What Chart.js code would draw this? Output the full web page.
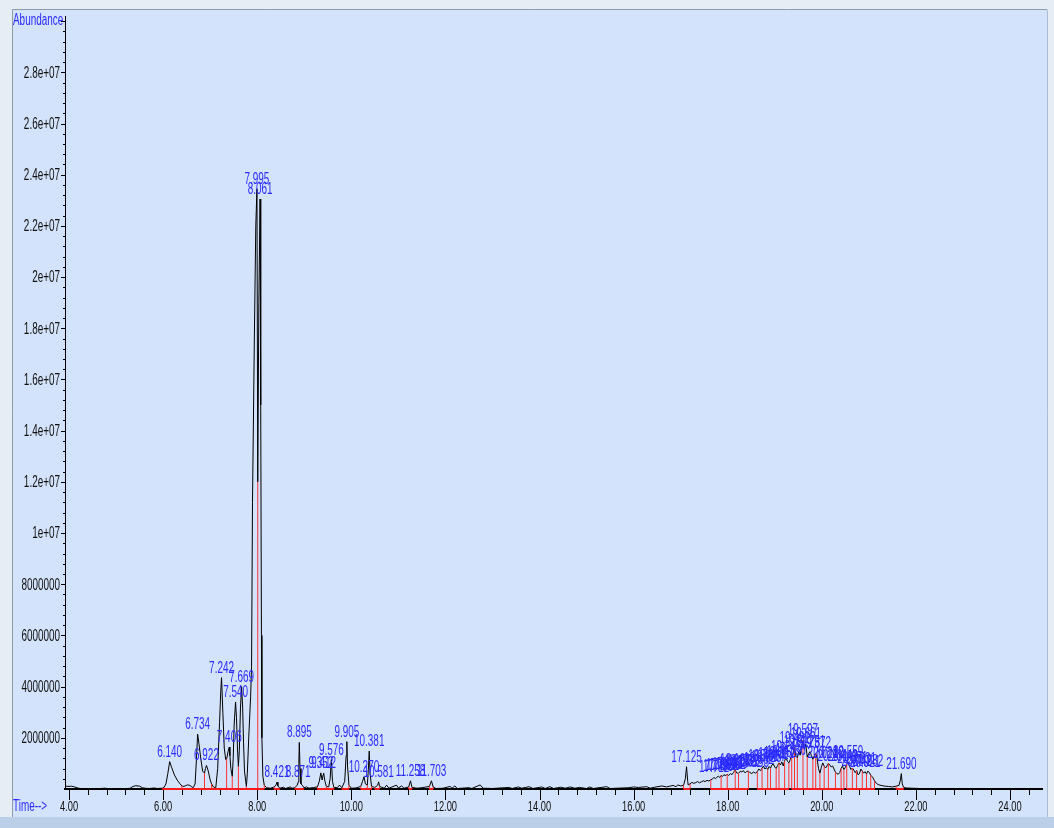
<!DOCTYPE html>
<html>
<head>
<meta charset="utf-8">
<title>TIC</title>
<script src="https://cdn.jsdelivr.net/npm/chart.js@4.4.1/dist/chart.umd.min.js"></script>
<style>
  html, body { margin: 0; padding: 0; background: #e6edf5; }
  #wrap { width: 1054px; height: 828px; }
</style>
</head>
<body>
<div id="wrap"><canvas id="ticChart" width="1054" height="828"></canvas></div>
<script>
// total ion chromatogram, [retention time (min), abundance]
const tic = [
  [3.92, 1.2e5], [3.98, 1.0e5], [4.05, 1.1e5], [4.12, 0.8e5], [4.20, 0.3e5], [4.30, 0.1e5], [4.45, 0.2e5],
  [4.60, 0.1e5], [4.75, 0.3e5], [4.90, 0.1e5], [5.05, 0.2e5], [5.20, 0.1e5], [5.30, 0.3e5], [5.36, 1.0e5],
  [5.42, 1.3e5], [5.50, 1.1e5], [5.56, 0.5e5], [5.62, 0.3e5], [5.72, 0.2e5], [5.80, 0.4e5], [5.88, 0.2e5],
  [5.98, 0.3e5], [6.02, 0.6e5], [6.06, 2.0e5], [6.10, 6.0e5], [6.14, 1.07e6], [6.18, 8.5e5], [6.24, 5.5e5],
  [6.30, 3.5e5], [6.36, 2.0e5], [6.40, 1.2e5], [6.44, 1.0e5], [6.48, 1.3e5], [6.52, 1.6e5], [6.57, 1.4e5],
  [6.61, 0.8e5], [6.64, 0.5e5], [6.68, 2.0e5], [6.71, 1.2e6], [6.734, 2.14e6], [6.76, 1.8e6], [6.80, 1.2e6],
  [6.84, 7.0e5], [6.88, 6.2e5], [6.90, 8.0e5], [6.922, 9.2e5], [6.96, 7.0e5], [7.00, 3.6e5], [7.03, 2.0e5],
  [7.07, 0.8e5], [7.12, 0.5e5], [7.16, 8.0e5], [7.20, 2.6e6], [7.225, 3.8e6], [7.242, 4.35e6], [7.27, 3.0e6],
  [7.30, 1.6e6], [7.33, 1.15e6], [7.35, 1.17e6], [7.38, 1.45e6], [7.406, 1.64e6], [7.42, 1.3e6], [7.44, 8.0e5],
  [7.47, 4.9e5], [7.49, 1.2e6], [7.51, 2.5e6], [7.54, 3.4e6], [7.56, 2.8e6], [7.58, 1.6e6], [7.60, 8.8e5],
  [7.62, 1.5e6], [7.645, 3.2e6], [7.669, 4.0e6], [7.69, 3.2e6], [7.71, 1.8e6], [7.73, 7.0e5], [7.77, 1.0e5],
  [7.79, 6.0e5], [7.82, 2.0e6], [7.86, 3.6e6], [7.88, 4.8e6], [7.90, 1.12e7], [7.94, 1.77e7], [7.97, 2.2e7],
  [7.995, 2.345e7], [8.012, 1.2e7], [8.035, 1.9e7], [8.061, 2.305e7], [8.075, 1.5e7], [8.09, 6.0e6], [8.10, 2.0e6],
  [8.12, 5.0e5], [8.15, 1.5e5], [8.20, 0.5e5], [8.28, 0.3e5], [8.36, 0.8e5], [8.40, 1.5e5], [8.421, 2.7e5],
  [8.44, 1.2e5], [8.48, 0.3e5], [8.56, 0.7e5], [8.60, 0.2e5], [8.70, 0.8e5], [8.74, 0.3e5], [8.80, 0.5e5],
  [8.85, 1.5e5], [8.871, 2.7e5], [8.885, 1.0e6], [8.895, 1.82e6], [8.91, 8.0e5], [8.93, 2.0e5], [8.96, 1.5e5],
  [8.99, 0.5e5], [9.05, 0.8e5], [9.10, 0.3e5], [9.20, 0.6e5], [9.28, 0.8e5], [9.32, 3.0e5], [9.352, 6.3e5],
  [9.38, 3.5e5], [9.40, 5.5e5], [9.412, 6.2e5], [9.44, 3.0e5], [9.47, 1.0e5], [9.52, 0.8e5], [9.55, 4.0e5],
  [9.576, 1.15e6], [9.60, 3.0e5], [9.63, 0.6e5], [9.70, 0.5e5], [9.75, 1.5e5], [9.80, 0.5e5], [9.86, 3.0e5],
  [9.89, 1.3e6], [9.905, 1.85e6], [9.92, 9.0e5], [9.95, 1.5e5], [10.00, 0.3e5], [10.10, 0.4e5], [10.20, 1.0e5],
  [10.24, 3.0e5], [10.270, 4.8e5], [10.30, 2.0e5], [10.34, 1.5e5], [10.36, 7.0e5], [10.381, 1.48e6], [10.40, 6.0e5],
  [10.43, 1.0e5], [10.50, 0.6e5], [10.56, 1.5e5], [10.581, 2.8e5], [10.60, 1.0e5], [10.70, 0.3e5], [10.75, 1.5e5],
  [10.80, 0.3e5], [10.96, 1.5e5], [11.00, 0.4e5], [11.07, 1.2e5], [11.12, 0.3e5], [11.22, 0.8e5], [11.258, 3.2e5],
  [11.29, 0.6e5], [11.40, 0.3e5], [11.50, 0.5e5], [11.66, 1.0e5], [11.703, 3.2e5], [11.74, 0.8e5], [11.80, 0.2e5],
  [11.95, 0.3e5], [12.10, 1.0e5], [12.14, 0.3e5], [12.20, 1.2e5], [12.25, 0.2e5], [12.50, 0.5e5], [12.56, 0.2e5],
  [12.74, 1.6e5], [12.80, 0.3e5], [13.00, 0.2e5], [13.35, 0.6e5], [13.42, 0.2e5], [13.55, 0.8e5], [13.62, 0.3e5],
  [13.78, 0.9e5], [13.86, 0.2e5], [14.05, 0.8e5], [14.12, 0.2e5], [14.22, 0.9e5], [14.30, 0.2e5], [14.45, 0.7e5],
  [14.55, 0.3e5], [14.65, 0.8e5], [14.75, 0.3e5], [14.85, 0.6e5], [15.00, 0.2e5], [15.07, 0.8e5], [15.14, 0.2e5],
  [15.43, 0.9e5], [15.50, 0.2e5], [15.90, 0.5e5], [16.00, 0.8e5], [16.10, 0.6e5], [16.28, 0.9e5], [16.35, 0.3e5],
  [16.45, 0.7e5], [16.60, 1.2e5], [16.70, 0.8e5], [16.84, 1.4e5], [16.90, 0.9e5], [16.94, 1.6e5], [17.00, 1.2e5],
  [17.06, 1.4e5], [17.10, 4.0e5], [17.125, 8.7e5], [17.15, 3.0e5], [17.16, 1.6e5], [17.20, 2.0e5], [17.24, 2.6e5],
  [17.28, 2.2e5], [17.32, 2.5e5], [17.36, 2.9e5], [17.40, 2.4e5], [17.44, 2.8e5], [17.48, 3.2e5], [17.52, 2.9e5],
  [17.56, 3.4e5], [17.60, 3.1e5], [17.64, 3.6e5], [17.68, 4.0e5], [17.71, 4.5e5], [17.74, 4.0e5], [17.77, 4.6e5],
  [17.80, 5.0e5], [17.83, 4.5e5], [17.86, 5.3e5], [17.89, 4.9e5], [17.92, 5.6e5], [17.96, 5.2e5], [17.99, 5.8e5],
  [18.02, 5.3e5], [18.06, 6.0e5], [18.09, 5.6e5], [18.12, 6.4e5], [18.16, 7.4e5], [18.19, 6.3e5], [18.23, 6.1e5],
  [18.27, 7.0e5], [18.30, 6.6e5], [18.33, 7.2e5], [18.37, 6.3e5], [18.40, 6.8e5], [18.44, 7.0e5], [18.47, 6.4e5],
  [18.51, 6.1e5], [18.55, 6.6e5], [18.59, 6.2e5], [18.63, 6.8e5], [18.66, 7.8e5], [18.70, 7.2e5], [18.73, 8.2e5],
  [18.76, 9.0e5], [18.79, 7.8e5], [18.82, 8.4e5], [18.85, 7.6e5], [18.88, 8.8e5], [18.91, 8.2e5], [18.94, 9.4e5],
  [18.97, 9.8e5], [19.00, 8.6e5], [19.03, 8.0e5], [19.06, 9.2e5], [19.09, 1.02e6], [19.12, 9.4e5], [19.15, 1.06e6],
  [19.18, 9.0e5], [19.21, 1.10e6], [19.24, 1.24e6], [19.27, 1.08e6], [19.30, 1.02e6], [19.33, 1.15e6], [19.36, 1.30e6],
  [19.39, 1.40e6], [19.42, 1.62e6], [19.45, 1.28e6], [19.48, 1.22e6], [19.51, 1.45e6], [19.54, 1.32e6], [19.57, 1.65e6],
  [19.60, 1.90e6], [19.63, 1.55e6], [19.66, 1.75e6], [19.69, 1.25e6], [19.72, 1.38e6], [19.75, 1.46e6], [19.78, 1.30e6],
  [19.81, 1.16e6], [19.84, 1.30e6], [19.87, 1.40e6], [19.90, 1.20e6], [19.93, 8.0e5], [19.96, 6.2e5], [19.99, 8.5e5],
  [20.02, 1.02e6], [20.05, 9.0e5], [20.08, 8.2e5], [20.11, 9.0e5], [20.14, 1.00e6], [20.17, 9.4e5], [20.20, 8.6e5],
  [20.23, 9.0e5], [20.26, 7.8e5], [20.29, 6.6e5], [20.32, 6.0e5], [20.35, 5.8e5], [20.38, 6.4e5], [20.41, 8.0e5],
  [20.44, 9.0e5], [20.47, 7.6e5], [20.50, 8.4e5], [20.53, 9.6e5], [20.56, 1.04e6], [20.59, 8.8e5], [20.62, 7.6e5],
  [20.65, 8.2e5], [20.68, 7.4e5], [20.71, 6.4e5], [20.74, 7.2e5], [20.77, 5.6e5], [20.80, 6.0e5], [20.83, 7.8e5],
  [20.86, 7.0e5], [20.89, 6.2e5], [20.92, 6.8e5], [20.95, 5.9e5], [20.98, 7.0e5], [21.01, 6.4e5], [21.04, 5.4e5],
  [21.08, 4.6e5], [21.12, 3.2e5], [21.16, 2.2e5], [21.20, 1.7e5], [21.26, 1.4e5], [21.34, 1.1e5], [21.42, 1.0e5],
  [21.50, 0.8e5], [21.58, 1.1e5], [21.64, 1.4e5], [21.67, 3.5e5], [21.69, 6.0e5], [21.71, 2.0e5], [21.74, 0.6e5],
  [21.80, 0.4e5], [21.90, 0.3e5], [22.10, 0.2e5], [22.40, 0.2e5], [23.00, 0.1e5], [24.00, 0.1e5], [24.66, 0.1e5]
];

// integrated peak apex labels
const peakLabels = [
  '6.140', '6.734', '6.922', '7.242', '7.406', '7.540', '7.669', '7.995', '8.061', '8.421', '8.871', '8.895',
  '9.352', '9.412', '9.576', '9.905', '10.270', '10.381', '10.581', '11.258', '11.703', '17.125',
  '17.712', '17.798', '17.861', '17.921', '17.993', '18.062', '18.118', '18.161', '18.272', '18.331', '18.402',
  '18.553', '18.662', '18.761', '18.823', '18.884', '18.972', '19.091', '19.152', '19.243', '19.336', '19.421',
  '19.512', '19.597', '19.661', '19.751', '19.872', '20.021', '20.142', '20.231', '20.442', '20.559', '20.651',
  '20.742', '20.831', '20.921', '20.982', '21.690'
];

// integration drop lines and baselines
const dropTimes = [
  5.98, 6.40, 6.64, 6.88, 7.03, 7.12, 7.35, 7.47, 7.60, 7.77, 8.012, 8.15, 8.36, 8.48, 8.80, 8.99, 9.28,
  9.47, 9.63, 9.80, 9.95, 10.20, 10.34, 10.43, 10.50, 10.60, 11.22, 11.29, 11.66, 11.74, 17.06, 17.20,
  17.64, 17.86, 17.99, 18.16, 18.23, 18.44, 18.63, 18.73, 18.85, 18.91, 19.03, 19.09, 19.21, 19.30, 19.36,
  19.42, 19.48, 19.60, 19.69, 19.81, 19.87, 19.96, 20.05, 20.14, 20.29, 20.41, 20.47, 20.53, 20.65, 20.74,
  20.86, 20.95, 21.04, 21.12, 21.58, 21.74
];
const baseStarts = [5.98, 8.36, 8.80, 9.28, 9.80, 10.20, 10.50, 11.22, 11.66, 17.06, 17.64, 18.63, 19.36, 20.53, 21.58];
const baseEnds = [8.15, 8.48, 8.99, 9.63, 9.95, 10.43, 10.60, 11.29, 11.74, 17.20, 18.44, 19.30, 20.47, 21.12, 21.74];

const timeTicks = ['4.00', '6.00', '8.00', '10.00', '12.00', '14.00', '16.00', '18.00', '20.00', '22.00', '24.00'];
const abundanceTicks = ['2000000', '4000000', '6000000', '8000000', '1e+07', '1.2e+07', '1.4e+07',
  '1.6e+07', '1.8e+07', '2e+07', '2.2e+07', '2.4e+07', '2.6e+07', '2.8e+07'];

const X_MIN = 3.915;
const X_MAX = 24.68;
const Y_MAX = 3.02e7;
const BLUE = '#2b2bff';
const FONT = '"Liberation Sans", Arial, sans-serif';
const SQUEEZE = 0.62;

function nearestValue(t) {
  let best = 0;
  for (let i = 1; i < tic.length; i++) {
    if (Math.abs(tic[i][0] - t) < Math.abs(tic[best][0] - t)) best = i;
  }
  return tic[best][1];
}

function drawText(ctx, text, x, y, align, baseline, size, color) {
  ctx.save();
  ctx.font = size + 'px ' + FONT;
  ctx.fillStyle = color;
  ctx.textAlign = align;
  ctx.textBaseline = baseline;
  ctx.translate(x, y);
  ctx.scale(SQUEEZE, 1);
  ctx.fillText(text, 0, 0);
  ctx.restore();
}

const traceData = tic.map(p => ({ x: p[0], y: p[1] }));

const dropData = [];
dropTimes.forEach(t => {
  dropData.push({ x: t, y: 0 }, { x: t, y: nearestValue(t) }, { x: t, y: null });
});

const baseData = [];
baseStarts.forEach((s, i) => {
  baseData.push({ x: s, y: 0 }, { x: baseEnds[i], y: 0 }, { x: baseEnds[i], y: null });
});

const framePlugin = {
  id: 'frame',
  beforeDraw(chart) {
    const ctx = chart.ctx;
    ctx.save();
    ctx.fillStyle = '#e6edf5';
    ctx.fillRect(0, 0, chart.width, chart.height);
    ctx.fillStyle = '#d3e3fb';
    ctx.fillRect(12, 9, 1035, 808);
    ctx.fillStyle = '#bccfe8';
    ctx.fillRect(0, 817, chart.width, chart.height - 817);
    ctx.strokeStyle = '#8e9bab';
    ctx.lineWidth = 1;
    ctx.beginPath();
    ctx.moveTo(12.5, 817);
    ctx.lineTo(12.5, 9.5);
    ctx.lineTo(1047, 9.5);
    ctx.stroke();
    ctx.strokeStyle = '#aebdd0';
    ctx.beginPath();
    ctx.moveTo(1047.5, 9.5);
    ctx.lineTo(1047.5, 817);
    ctx.stroke();
    ctx.restore();
  }
};

const axisPlugin = {
  id: 'axisText',
  afterDraw(chart) {
    const ctx = chart.ctx;
    const xs = chart.scales.x;
    const ys = chart.scales.y;
    const area = chart.chartArea;
    ctx.save();
    ctx.strokeStyle = '#000';
    ctx.fillStyle = '#000';
    ctx.lineWidth = 1;

    // time axis ticks every 0.4 min, long ones every 2 min
    for (let k = 0; k <= 55; k++) {
      const t = 4 + k * 0.4;
      if (t > X_MAX) break;
      const px = Math.round(xs.getPixelForValue(t)) + 0.5;
      ctx.beginPath();
      ctx.moveTo(px, area.bottom + 1);
      ctx.lineTo(px, area.bottom + (k % 5 === 0 ? 11 : 6));
      ctx.stroke();
    }
    timeTicks.forEach(s => {
      drawText(ctx, s, xs.getPixelForValue(parseFloat(s)), 807, 'center', 'middle', 15, '#111');
    });

    // abundance ticks
    for (let k = 1; k * 4e5 <= Y_MAX; k++) {
      const py = Math.round(ys.getPixelForValue(k * 4e5));
      if (k % 5 === 0) {
        ctx.fillRect(area.left - 4, py, 4, 1);
      } else {
        ctx.fillRect(area.left - 2, py, 2, 1);
      }
    }
    abundanceTicks.forEach(s => {
      drawText(ctx, s, area.left - 5, ys.getPixelForValue(Number(s)) + 1, 'right', 'middle', 16, '#111');
    });

    drawText(ctx, 'Abundance', 13, 21, 'left', 'middle', 16, BLUE);
    drawText(ctx, 'Time-->', 13, 807, 'left', 'middle', 16, BLUE);
    ctx.restore();
  }
};

const labelPlugin = {
  id: 'peakLabels',
  afterDatasetsDraw(chart) {
    const ctx = chart.ctx;
    const xs = chart.scales.x;
    const ys = chart.scales.y;
    peakLabels.forEach(s => {
      const t = parseFloat(s);
      const px = xs.getPixelForValue(t);
      const py = ys.getPixelForValue(nearestValue(t)) - 5;
      drawText(ctx, s, px, py, 'center', 'alphabetic', 16, BLUE);
    });
  }
};

const ctx = document.getElementById('ticChart').getContext('2d');
const ticChart = new Chart(ctx, {
  type: 'line',
  data: {
    datasets: [
      {
        label: 'Integration baseline',
        data: baseData,
        borderColor: '#ff1a1a',
        borderWidth: 2,
        pointRadius: 0,
        spanGaps: false,
        clip: false,
        order: 0
      },
      {
        label: 'Drop lines',
        data: dropData,
        borderColor: '#ff3030',
        borderWidth: 1,
        pointRadius: 0,
        spanGaps: false,
        clip: false,
        order: 1
      },
      {
        label: 'TIC',
        data: traceData,
        borderColor: '#000',
        borderWidth: 1,
        pointRadius: 0,
        tension: 0,
        order: 2
      }
    ]
  },
  options: {
    responsive: false,
    animation: false,
    devicePixelRatio: 1,
    layout: { padding: { left: 0, right: 12, top: 16, bottom: 0 } },
    plugins: {
      legend: { display: false },
      tooltip: { enabled: false }
    },
    scales: {
      x: {
        type: 'linear',
        min: X_MIN,
        max: X_MAX,
        grid: { display: false },
        border: { display: true, color: '#000', width: 2 },
        ticks: { display: false },
        afterFit: s => { s.height = 39; }
      },
      y: {
        type: 'linear',
        min: 0,
        max: Y_MAX,
        grid: { display: false },
        border: { display: true, color: '#000', width: 1 },
        ticks: { display: false },
        afterFit: s => { s.width = 65; }
      }
    }
  },
  plugins: [framePlugin, axisPlugin, labelPlugin]
});
</script>
</body>
</html>
